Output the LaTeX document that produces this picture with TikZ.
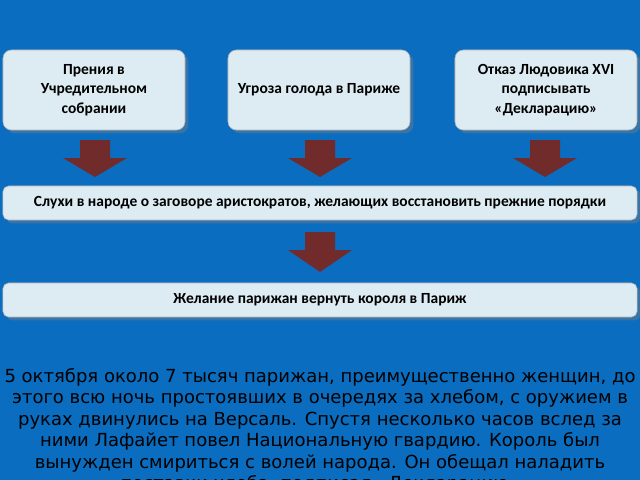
\documentclass[tikz,border=0pt]{standalone}
\usepackage{fontspec}
\setmainfont{Carlito}
\newfontfamily\djv{DejaVu Sans}
\usetikzlibrary{positioning,shadows,calc}
\definecolor{slideblue}{HTML}{0A6DC0}
\definecolor{boxfill}{HTML}{DDEBF3}
\definecolor{arrowred}{HTML}{722B2B}
\tikzset{
  cause/.style={draw=gray!60, fill=boxfill, rounded corners=6pt, minimum width=4.55cm, minimum height=2cm, align=center, font=\bfseries\fontsize{11}{14}\selectfont, drop shadow={opacity=0.4}},
  wide/.style={draw=gray!60, fill=boxfill, rounded corners=4pt, minimum width=15.85cm, minimum height=0.85cm, font=\bfseries\fontsize{11}{14}\selectfont, drop shadow={opacity=0.4}},
  downarrow/.style={fill=arrowred}
}
\newcommand{\downarr}[2]{% top point, length in px
  \fill[downarrow] ($(#1)+(-15,0)$) -- ($(#1)+(15,0)$) -- ($(#1)+(15,18)$) -- ($(#1)+(32,18)$) -- ($(#1)+(0,#2)$) -- ($(#1)+(-32,18)$) -- ($(#1)+(-15,18)$) -- cycle;}
\begin{document}
\begin{tikzpicture}[x=0.025cm, y=-0.025cm]
\fill[slideblue] (0,0) rectangle (640,480);
\useasboundingbox (0,0) rectangle (640,480);
% Boxes
\node[cause] (debates) at (94,90) {Прения в\\Учредительном\\собрании};
\node[cause] (hunger) at (319,90) {Угроза голода в Париже};
\node[cause] (refusal) at (546,90) {Отказ Людовика XVI\\подписывать\\«Декларацию»};
\node[wide] (rumours) at (320,203) {Слухи в народе о заговоре аристократов, желающих восстановить прежние порядки};
\node[wide] (desire) at (320,300) {Желание парижан вернуть короля в Париж};
% Arrows
\coordinate (a1) at (95,140);
\coordinate (a2) at (320,140);
\coordinate (a3) at (545,140);
\coordinate (a4) at (320,232);
\downarr{a1}{37}
\downarr{a2}{37}
\downarr{a3}{37}
\downarr{a4}{40}
% Text
\node[font=\djv\fontsize{12.8}{15.3}\selectfont, align=center, anchor=north, inner sep=0pt] (story) at (320,368) {5 октября около 7 тысяч парижан, преимущественно женщин, до\\этого всю ночь простоявших в очередях за хлебом, с оружием в\\руках двинулись на Версаль. Спустя несколько часов вслед за\\ними Лафайет повел Национальную гвардию. Король был\\вынужден смириться с волей народа. Он обещал наладить\\поставки хлеба, подписал «Декларацию»};
\end{tikzpicture}
\end{document}
